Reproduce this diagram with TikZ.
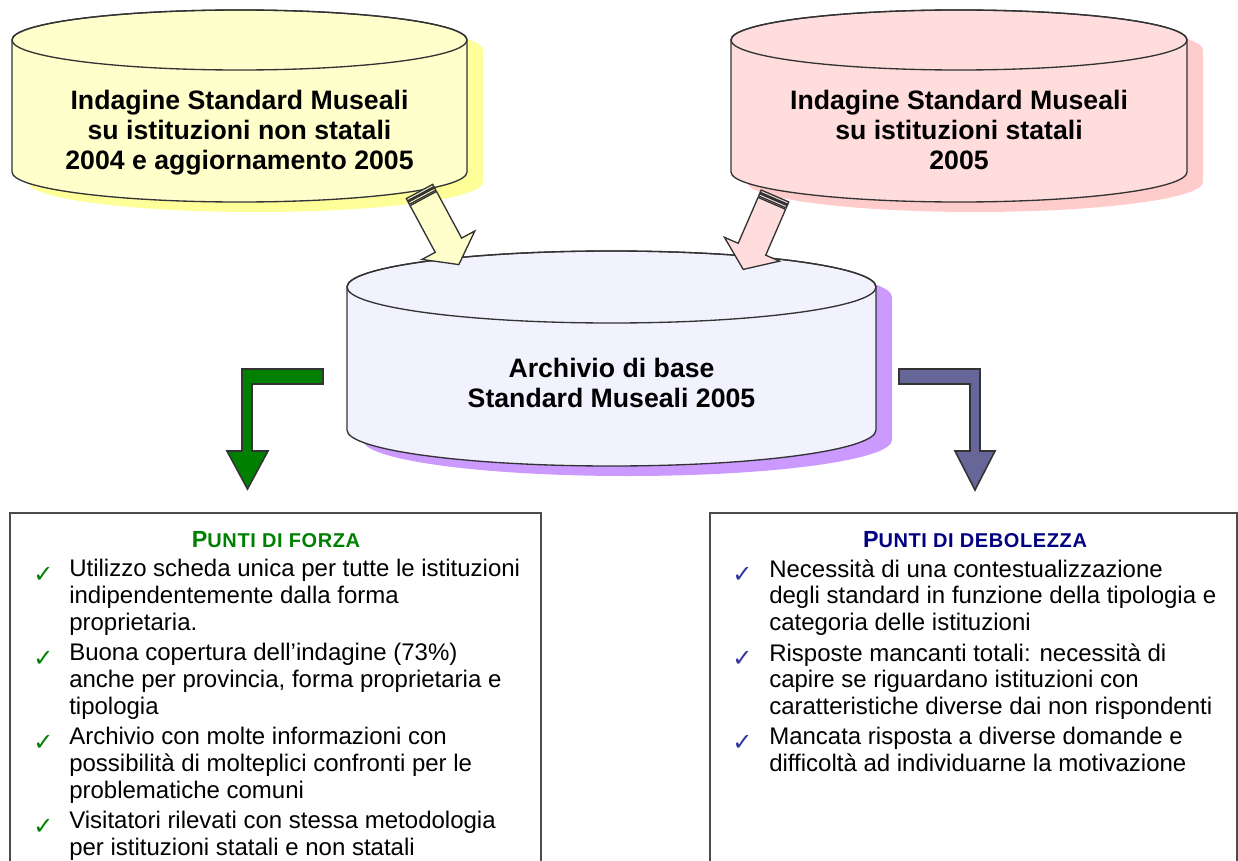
\documentclass[tikz,border=0pt]{standalone}
\usepackage{fontspec}
\setmainfont{Liberation Sans}
\newfontfamily\checkfont{DejaVu Sans}
\usetikzlibrary{positioning,calc}
\definecolor{yellowF}{HTML}{FFFFCC}
\definecolor{yellowS}{HTML}{FFFF99}
\definecolor{pinkF}{HTML}{FFDDDD}
\definecolor{pinkS}{HTML}{FFCCCC}
\definecolor{lilacF}{HTML}{F2F2FF}
\definecolor{lilacS}{HTML}{CC99FF}
\definecolor{forzaG}{HTML}{008000}
\definecolor{debolB}{HTML}{000080}
\definecolor{tickB}{HTML}{3333A0}
\definecolor{elbowB}{HTML}{666699}
\definecolor{edgeG}{HTML}{333333}

% database cylinder: centre x, top y, bottom y, x radius, y radius, fill, shadow
\newcommand{\dbcyl}[7]{%
  \fill[#7] ({#1-#4+16},{#2+10}) arc[start angle=180,end angle=360,x radius=#4,y radius=#5]
     -- ({#1+#4+16},{#3+10}) arc[start angle=0,end angle=180,x radius=#4,y radius=#5] -- cycle;
  \filldraw[cylline,fill=#6] ({#1-#4},#2) arc[start angle=180,end angle=360,x radius=#4,y radius=#5]
     -- ({#1+#4},#3) arc[start angle=0,end angle=180,x radius=#4,y radius=#5] -- cycle;
  \draw[cylline] (#1,#2) ellipse[x radius=#4,y radius=#5];
}
% small-caps heading made by hand
\newcommand{\scaps}[2]{{\fontsize{17.5}{20}\selectfont #1}{\fontsize{15}{20}\selectfont\addfontfeature{LetterSpace=3}#2}}

\begin{document}
\begin{tikzpicture}[
    x=0.75pt,y=-0.75pt,
    cylline/.style={draw=edgeG,line width=1pt},
    cyltext/.style={align=center,font=\bfseries\fontsize{20}{22.5}\selectfont},
    blockarrow/.style={draw=edgeG,line width=1pt,line join=miter},
    elbow/.style={draw=edgeG,line width=1.2pt,line join=miter},
    panel/.style={draw=black!70,line width=1pt},
    heading/.style={anchor=base,inner sep=0pt,font=\bfseries},
    tick/.style={anchor=base west,inner sep=0pt,font=\checkfont\fontsize{18}{18}\selectfont},
    point/.style={anchor=north west,align=left,inner sep=0pt,
                  font=\fontsize{18}{19.9}\selectfont,
                  execute at begin node={\rule{0pt}{17pt}}},
]
\clip (0,0) rectangle (1238,860);

% =====================================================================
%  source archives (top) and merged archive (centre)
% =====================================================================
\dbcyl{239.5}{40}{172}{227.5}{30}{yellowF}{yellowS}
\node[cyltext] (nonstatali) at (239.5,133)
     {Indagine Standard Museali\\su istituzioni non statali\\2004 e aggiornamento 2005};

\dbcyl{959}{40}{172}{228}{30}{pinkF}{pinkS}
\node[cyltext] (statali) at (959,130)
     {Indagine Standard Museali\\su istituzioni statali\\2005};

\dbcyl{611.5}{287}{430}{264.5}{36}{lilacF}{lilacS}
\node[cyltext] (archivio) at (611.5,383)
     {Archivio di base\\Standard Museali 2005};

% striped block arrows into the merged archive
\coordinate (tailNS) at (419.5,191.5);
\coordinate (tailS)  at (775,196);
\begin{scope}[shift={(tailNS)},rotate=-61.7]
  \filldraw[blockarrow,fill=yellowF] (0,-15) rectangle (2.5,15) (4,-15) rectangle (6.5,15);
  \filldraw[blockarrow,fill=yellowF] (8,-15) -- (61,-15) -- (61,-30) -- (83,0)
            -- (61,30) -- (61,15) -- (8,15) -- cycle;
\end{scope}
\begin{scope}[shift={(tailS)},rotate=-113.4]
  \filldraw[blockarrow,fill=pinkF] (0,-15) rectangle (2.5,15) (4,-15) rectangle (6.5,15);
  \filldraw[blockarrow,fill=pinkF] (8,-15) -- (58,-15) -- (58,-30) -- (80,0)
            -- (58,30) -- (58,15) -- (8,15) -- cycle;
\end{scope}

% elbow arrows down to the two panels
\filldraw[elbow,fill=forzaG] (323,369) -- (242,369) -- (242,451) -- (227,451) -- (247.5,489)
        -- (268,451) -- (252,451) -- (252,384) -- (323,384) -- cycle;
\filldraw[elbow,fill=elbowB] (899,369) -- (980,369) -- (980,451) -- (995,451) -- (975,490)
        -- (955,451) -- (970,451) -- (970,384) -- (899,384) -- cycle;

% =====================================================================
%  strengths panel
% =====================================================================
\draw[panel] (10,513) rectangle (541,880);
\node[heading,forzaG] (forzaT) at (276,547) {\scaps{P}{UNTI DI FORZA}};
\foreach \b/\t [count=\i] in {
    582/{Utilizzo scheda unica per tutte le istituzioni\\indipendentemente dalla forma\\proprietaria.},
    666/{Buona copertura dell’indagine (73\%)\\anche per provincia, forma proprietaria e\\tipologia},
    750/{Archivio con molte informazioni con\\possibilità di molteplici confronti per le\\problematiche comuni},
    834/{Visitatori rilevati con stessa metodologia\\per istituzioni statali e non statali}}{
  \node[tick,forzaG] (tickF\i) at (33,\b) {✓};
  \node[point] (forza\i) at (69,{\b-22.67}) {\t};
}

% =====================================================================
%  weaknesses panel
% =====================================================================
\draw[panel] (710,513) rectangle (1237,880);
\node[heading,debolB] (debolT) at (975,547) {\scaps{P}{UNTI DI DEBOLEZZA}};
\foreach \b/\t [count=\i] in {
    582/{Necessità di una contestualizzazione\\degli standard in funzione della tipologia e\\categoria delle istituzioni},
    666/{Risposte mancanti totali: necessità di\\capire se riguardano istituzioni con\\caratteristiche diverse dai non rispondenti},
    750/{Mancata risposta a diverse domande e\\difficoltà ad individuarne la motivazione}}{
  \node[tick,tickB] (tickD\i) at (732,\b) {✓};
  \node[point] (debol\i) at (769,{\b-22.67}) {\t};
}

\end{tikzpicture}
\end{document}
